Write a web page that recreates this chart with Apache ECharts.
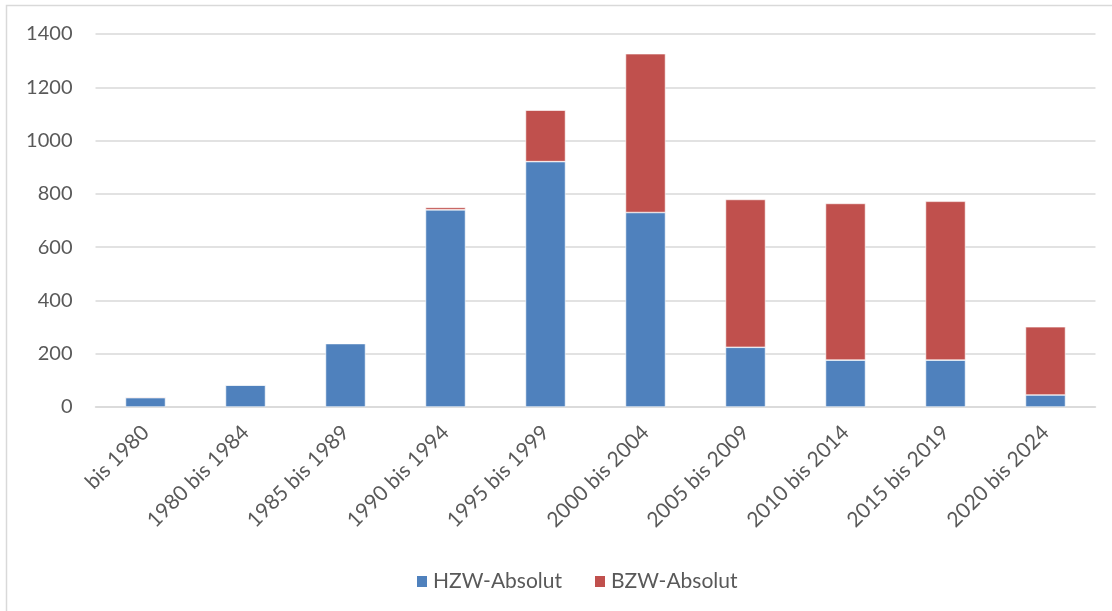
<!DOCTYPE html>
<html>
<head>
<meta charset="utf-8">
<script src="https://cdn.jsdelivr.net/npm/echarts@6/dist/echarts.min.js"></script>
<style>
  html, body { margin: 0; padding: 0; background: #ffffff; }
  #chart { width: 1112px; height: 611px; }
</style>
</head>
<body>
<div id="chart"></div>
<script>
// Zeiträume (Kategorien)
const categories = ['bis 1980', '1980 bis 1984', '1985 bis 1989', '1990 bis 1994', '1995 bis 1999',
  '2000 bis 2004', '2005 bis 2009', '2010 bis 2014', '2015 bis 2019', '2020 bis 2024'];
// HZW absolut
const hzwValues = [35, 82, 238, 740, 921, 730, 224, 176, 176, 45];
// BZW absolut
const bzwValues = [3, 2, 1, 9, 193, 596, 555, 588, 596, 256];
// Y-Achse
const yMin = 0, yMax = 1400, yStep = 200;

const fontFamily = 'Lato, "Open Sans", "Liberation Sans", sans-serif';
const textColor = '#595959';

const chart = echarts.init(document.getElementById('chart'), null, { renderer: 'canvas' });
chart.setOption({
  backgroundColor: '#ffffff',
  animation: false,
  graphic: [{
    type: 'rect',
    shape: { x: 6.5, y: 5.5, width: 1120, height: 620 },
    style: { fill: 'none', stroke: '#d9d9d9', lineWidth: 1.5 },
    silent: true
  }],
  grid: { left: 95.5, right: 16.5, top: 34, bottom: 204, containLabel: false },
  legend: {
    top: 566,
    left: 410,
    itemWidth: 12,
    itemHeight: 13,
    itemGap: 31,
    icon: 'rect',
    textStyle: { color: textColor, fontSize: 21, fontFamily: fontFamily },
    data: ['HZW-Absolut', 'BZW-Absolut']
  },
  xAxis: {
    type: 'category',
    data: categories,
    axisLine: { show: true, lineStyle: { color: '#d9d9d9', width: 1.5 } },
    axisTick: { show: false },
    axisLabel: {
      rotate: 45,
      margin: 22,
      color: textColor,
      fontSize: 21,
      fontFamily: fontFamily,
      interval: 0
    }
  },
  yAxis: {
    type: 'value',
    min: yMin,
    max: yMax,
    interval: yStep,
    axisLine: { show: false },
    axisTick: { show: false },
    splitLine: { lineStyle: { color: '#d9d9d9', width: 1.5 } },
    axisLabel: {
      color: textColor,
      fontSize: 20,
      fontFamily: fontFamily,
      margin: 23,
      formatter: (v) => String(v)
    }
  },
  series: [
    {
      name: 'HZW-Absolut',
      type: 'bar',
      stack: 'gesamt',
      data: hzwValues,
      barWidth: '40%',
      itemStyle: { color: '#4f81bd', borderColor: '#ffffff', borderWidth: 0.6 }
    },
    {
      name: 'BZW-Absolut',
      type: 'bar',
      stack: 'gesamt',
      data: bzwValues,
      barWidth: '40%',
      itemStyle: { color: '#c0504d', borderColor: '#ffffff', borderWidth: 0.6 }
    }
  ]
});
</script>
</body>
</html>
